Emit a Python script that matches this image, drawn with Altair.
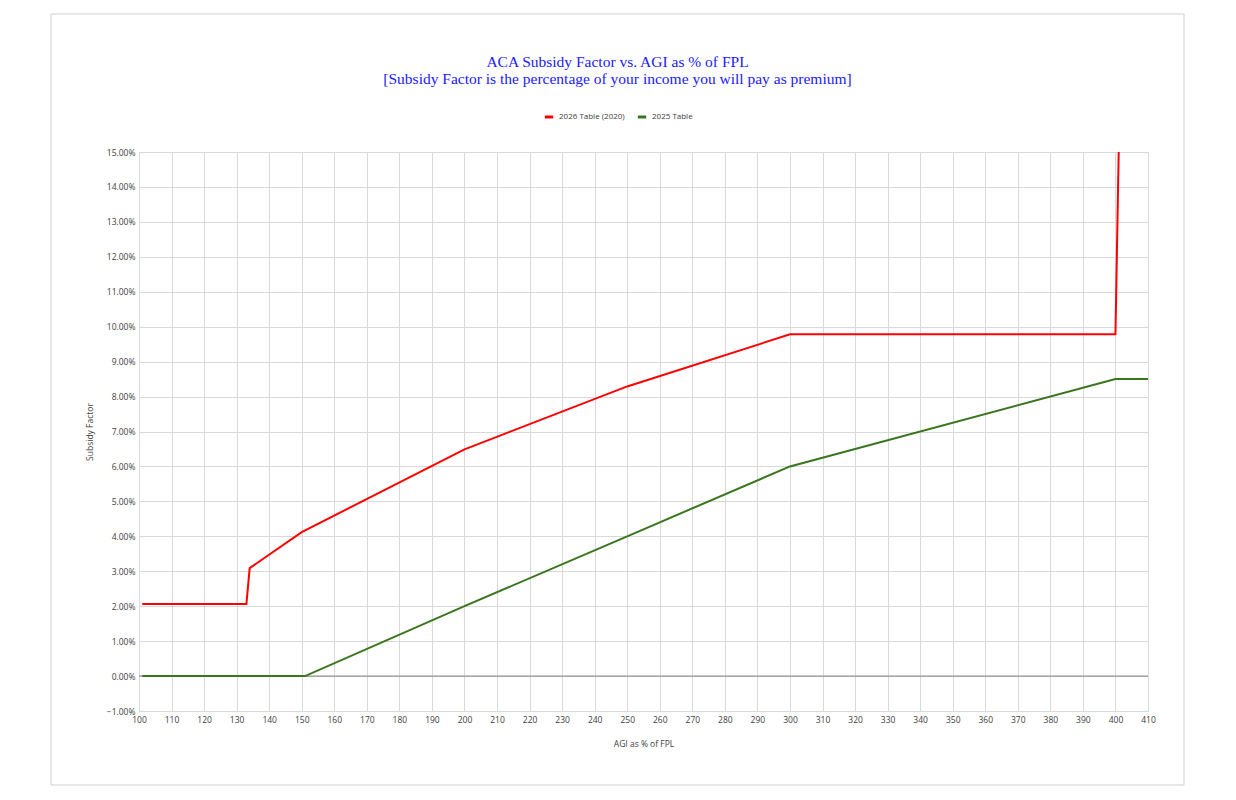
import altair as alt
import pandas as pd

# Data
x_2026 = [101, 133, 134, 150, 200, 250, 300, 400, 401]
y_2026 = [2.06, 2.06, 3.09, 4.12, 6.49, 8.29, 9.78, 9.78, 15.0]
x_2025 = [101, 151, 200, 250, 300, 400, 410]
y_2025 = [0.0, 0.0, 2.0, 4.0, 6.0, 8.5, 8.5]
series_names = ["2026 Table (2020)", "2025 Table"]
series_colors = ["#ff0000", "#38761d"]
x_ticks = list(range(100, 411, 10))
y_ticks = list(range(-1, 16))

rows = []
for i, (x, y) in enumerate(zip(x_2026, y_2026)):
    rows.append({"agi": x, "factor": y, "series": series_names[0], "order": i})
for i, (x, y) in enumerate(zip(x_2025, y_2025)):
    rows.append({"agi": x, "factor": y, "series": series_names[1], "order": i})
df = pd.DataFrame(rows)

FONT = "Open Sans"
AXIS_COLOR = "#404040"

xscale = alt.Scale(domain=[100, 410], nice=False, zero=False)
yscale = alt.Scale(domain=[-1, 15], nice=False, zero=False)

x_enc = alt.X(
    "agi:Q", scale=xscale,
    axis=alt.Axis(values=x_ticks, tickCount=100, title="AGI as % of FPL",
                  grid=True, gridColor="#d9d9d9", domain=False, ticks=False,
                  labelFont=FONT, labelFontSize=8.5, labelColor=AXIS_COLOR,
                  labelPadding=4, labelOverlap=False, titleFont=FONT,
                  titleFontSize=8.5, titleFontWeight="normal",
                  titleColor=AXIS_COLOR, titlePadding=16, labelFlush=False),
)
y_enc = alt.Y(
    "factor:Q", scale=yscale,
    axis=alt.Axis(values=y_ticks, tickCount=100, title="Subsidy Factor",
                  grid=True, gridColor="#d9d9d9", domain=True,
                  domainColor="#d9d9d9", ticks=False,
                  labelExpr="format(datum.value, '.2f') + '%'",
                  labelFont=FONT, labelFontSize=8.5, labelColor=AXIS_COLOR,
                  labelPadding=4, labelOverlap=False, titleFont=FONT,
                  titleFontSize=8.5, titleFontWeight="normal",
                  titleColor=AXIS_COLOR, titlePadding=12),
)

frame = alt.Chart(pd.DataFrame({"a": [0]})).mark_rect(
    fill=None, stroke="#cfcfcf", strokeWidth=1, clip=False
).encode(
    x=alt.value(-88), x2=alt.value(1045), y=alt.value(-138), y2=alt.value(633)
)

zero = alt.Chart(pd.DataFrame({"z": [0]})).mark_rule(
    color="#7f7f7f", strokeWidth=1
).encode(y=alt.Y("z:Q", scale=yscale))

lines = alt.Chart(df).mark_line(strokeWidth=2, clip=True).encode(
    x=x_enc,
    y=y_enc,
    order="order:Q",
    color=alt.Color(
        "series:N",
        scale=alt.Scale(domain=series_names, range=series_colors),
        sort=series_names,
        legend=alt.Legend(
            title=None, orient="none", direction="horizontal",
            legendX=404, legendY=-41, symbolType="stroke",
            symbolStrokeWidth=3, symbolSize=70, labelFont=FONT,
            labelFontSize=8, labelColor=AXIS_COLOR, columnPadding=6,
            labelOffset=4,
        ),
    ),
)

chart = alt.layer(frame, zero, lines).properties(
    width=1009,
    height=559,
    autosize=alt.AutoSizeParams(type="none"),
    padding={"left": 131, "top": 144, "right": 60, "bottom": 80},
    title=alt.TitleParams(
        text=["ACA Subsidy Factor vs. AGI as % of FPL",
              "[Subsidy Factor is the percentage of your income you will pay as premium]"],
        font="Liberation Serif", fontSize=15.5, fontWeight="normal",
        color="#2020ff", anchor="middle", offset=-74, dx=-26, lineHeight=17,
    ),
).configure_view(stroke=None)

chart.save("out.html", embed_options={"renderer": "svg", "actions": False})
